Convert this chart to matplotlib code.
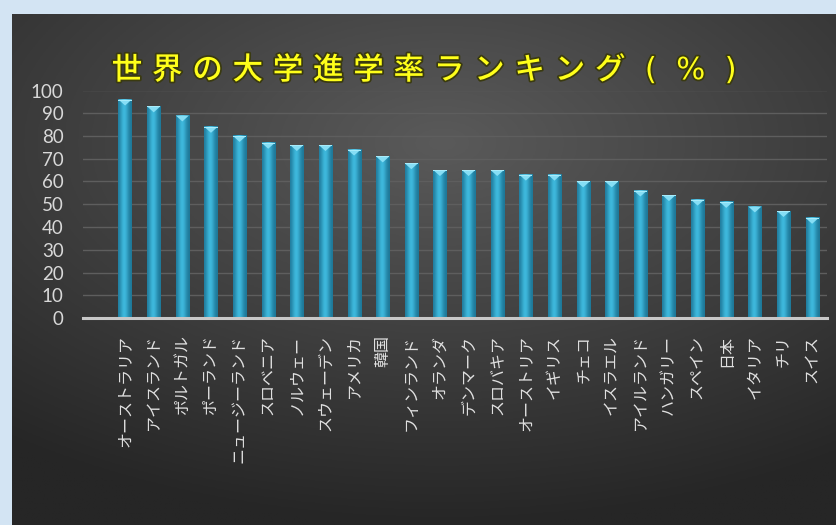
import numpy as np
import matplotlib
matplotlib.use("Agg")
import matplotlib.pyplot as plt
from matplotlib.patches import Polygon
import matplotlib.patheffects as pe

countries = ["オーストラリア", "アイスランド", "ポルトガル", "ポーランド", "ニュージーランド",
             "スロベニア", "ノルウェー", "スウェーデン", "アメリカ", "韓国",
             "フィンランド", "オランダ", "デンマーク", "スロバキア", "オーストリア",
             "イギリス", "チェコ", "イスラエル", "アイルランド", "ハンガリー",
             "スペイン", "日本", "イタリア", "チリ", "スイス"]
rates = [96, 93, 89, 84, 80, 77, 76, 76, 74, 71, 68, 65, 65, 65, 63, 63,
         60, 60, 56, 54, 52, 51, 49, 47, 44]
yticks = list(range(0, 101, 10))
title = "世 界 の 大 学 進 学 率 ラ ン キ ン グ  (  %  )"

plt.rcParams['font.family'] = ['Noto Sans CJK JP', 'DejaVu Sans']

W, H = 837, 525
fig = plt.figure(figsize=(W / 100, H / 100), dpi=100)
fig.patch.set_facecolor('#d3e4f3')

# dark gradient panel
bg = fig.add_axes([12 / W, 0, (W - 12) / W, (H - 14) / H])
bg.set_axis_off()
ny, nx = 200, 320
yy, xx = np.mgrid[0:ny, 0:nx]
cx, cy = 0.52 * nx, 0.25 * ny
d = np.sqrt(((xx - cx) / nx) ** 2 * 1.0 + ((yy - cy) / ny) ** 2 * 1.3)
d = np.clip(d / 0.85, 0, 1)
light = np.array([0x5a, 0x5a, 0x5a]) / 255
dark = np.array([0x26, 0x26, 0x26]) / 255
img = light[None, None, :] * (1 - d[..., None]) + dark[None, None, :] * d[..., None]
bg.imshow(img, aspect='auto', extent=(0, 1, 0, 1), origin='upper')
bg.set_xlim(0, 1)
bg.set_ylim(0, 1)

# main axes
left, right = 83 / W, 827 / W
bottom, top = 1 - 318 / H, 1 - 90.5 / H
ax = fig.add_axes([left, bottom, right - left, top - bottom])
ax.set_facecolor('none')
x = np.arange(len(countries))
bw = 0.46
bars = ax.bar(x, rates, width=bw, color='#2a9cc2', zorder=2)

# cylinder-like gradient on each bar
grad = np.linspace(0, 1, 64)
prof = np.exp(-((grad - 0.45) / 0.32) ** 2)
c_edge = np.array([0x1c, 0x74, 0x94]) / 255
c_mid = np.array([0x3e, 0xb8, 0xdc]) / 255
gimg = (c_edge[None, :] * (1 - prof[:, None]) + c_mid[None, :] * prof[:, None])[None, :, :]
for b in bars:
    x0, w, h = b.get_x(), b.get_width(), b.get_height()
    ax.imshow(gimg, aspect='auto', extent=(x0, x0 + w, 0, h), zorder=3,
              interpolation='bilinear')
    cap_h = 2.6
    tri = Polygon([[x0, h], [x0 + w, h], [x0 + w / 2, h - cap_h]], closed=True,
                  facecolor='#86def5', edgecolor='none', zorder=4)
    ax.add_patch(tri)
    ax.add_patch(Polygon([[x0, h], [x0 + w, h], [x0 + w, h - 0.4], [x0, h - 0.4]],
                         facecolor='#a8ecfb', edgecolor='none', zorder=4))

ax.set_xlim(-1.47, len(countries) - 1 + 0.52)
ax.set_ylim(0, 100)
ax.set_yticks(yticks)
ax.set_yticklabels([str(t) for t in yticks], family=['Lato', 'DejaVu Sans'],
                   fontsize=13.5, color='#d8d8d8')
ax.tick_params(axis='y', length=0, pad=14)
ax.set_xticks(x)
ax.set_xticklabels(countries, rotation=90, fontsize=11.5, color='#e0e0e0',
                   va='top', ha='center')
ax.tick_params(axis='x', length=0, pad=12)
ax.grid(axis='y', color='#5e5e5e', linewidth=1.0, zorder=0)
ax.set_axisbelow(True)
for s in ['top', 'right', 'left']:
    ax.spines[s].set_visible(False)
ax.spines['bottom'].set_color('#c8c8c8')
ax.spines['bottom'].set_linewidth(2.2)
ax.spines['bottom'].set_zorder(5)

fig.text(424 / W, 1 - 70 / H, title, color='#ffff1a', fontsize=22,
         family=['DejaVu Sans', 'Noto Sans CJK JP'], weight='medium',
         ha='center', va='center',
         path_effects=[pe.withStroke(linewidth=2.5, foreground='#3a3a10')])

fig.savefig('out.png', dpi=100, facecolor=fig.get_facecolor())
